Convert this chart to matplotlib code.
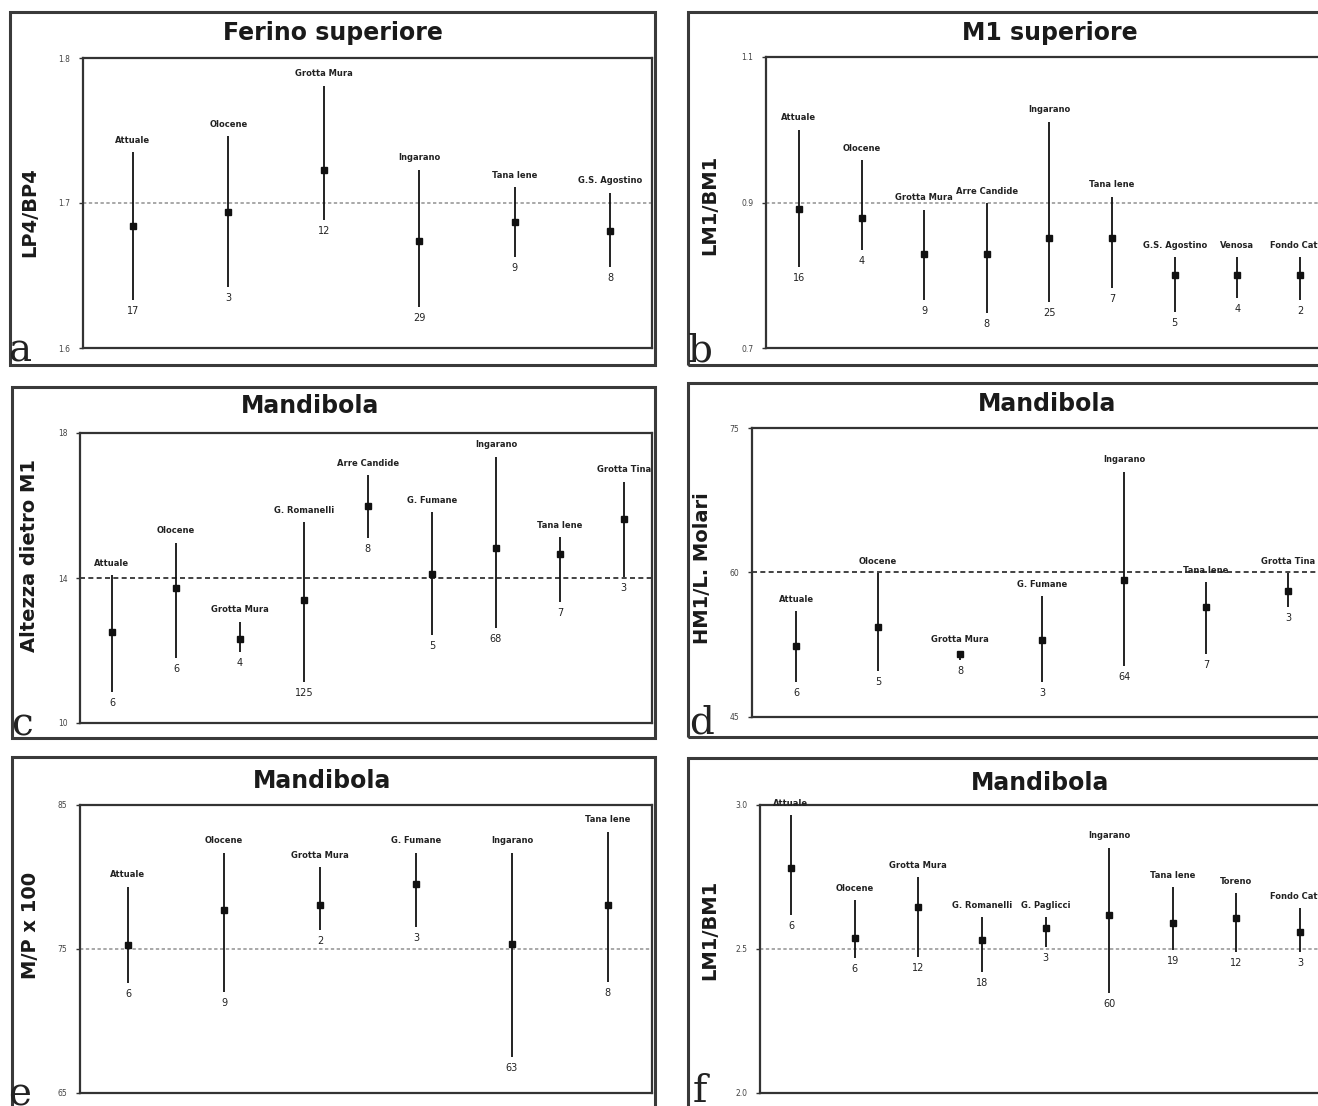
"""
Six-panel range plots (mean and min-max) of dental ratios per site,
with the reference level of the modern sample marked as a dashed line.
"""

import matplotlib
matplotlib.use("Agg")
import matplotlib.pyplot as plt
from matplotlib.patches import Rectangle

W, H = 1318, 1106          # output size in pixels
DPI = 100

# ---- panel a: Ferino superiore -------------------------------------------
A_SITES = ["Attuale", "Olocene", "Grotta Mura", "Ingarano", "Tana Iene", "G.S. Agostino"]
A_HIGH = [1.735, 1.746, 1.781, 1.723, 1.711, 1.707]
A_MEAN = [1.684, 1.694, 1.723, 1.674, 1.687, 1.681]
A_LOW = [1.633, 1.642, 1.688, 1.628, 1.663, 1.656]
A_N = ["17", "3", "12", "29", "9", "8"]
A_TICKS = [1.6, 1.7, 1.8]

# ---- panel b: M1 superiore -----------------------------------------------
B_SITES = ["Attuale", "Olocene", "Grotta Mura", "Arre Candide", "Ingarano",
           "Tana Iene", "G.S. Agostino", "Venosa", "Fondo Cattie"]
B_HIGH = [1.000, 0.958, 0.890, 0.899, 1.011, 0.908, 0.825, 0.825, 0.825]
B_MEAN = [0.891, 0.879, 0.829, 0.829, 0.851, 0.851, 0.800, 0.800, 0.800]
B_LOW = [0.811, 0.835, 0.766, 0.748, 0.763, 0.782, 0.749, 0.769, 0.766]
B_N = ["16", "4", "9", "8", "25", "7", "5", "4", "2"]
B_TICKS = [0.7, 0.9, 1.1]

# ---- panel c: Mandibola, altezza dietro M1 -------------------------------
C_SITES = ["Attuale", "Olocene", "Grotta Mura", "G. Romanelli", "Arre Candide",
           "G. Fumane", "Ingarano", "Tana Iene", "Grotta Tina"]
C_HIGH = [14.08, 14.97, 12.79, 15.54, 16.84, 15.82, 17.34, 15.13, 16.65]
C_MEAN = [12.51, 13.72, 12.32, 13.39, 15.99, 14.11, 14.83, 14.66, 15.63]
C_LOW = [10.86, 11.79, 11.96, 11.13, 15.10, 12.43, 12.62, 13.34, 14.03]
C_N = ["6", "6", "4", "125", "8", "5", "68", "7", "3"]
C_TICKS = [10, 14, 18]

# ---- panel d: Mandibola, HM1/L. Molari -----------------------------------
D_SITES = ["Attuale", "Olocene", "Grotta Mura", "G. Fumane", "Ingarano",
           "Tana Iene", "Grotta Tina"]
D_HIGH = [55.97, 59.90, 51.83, 57.52, 70.45, 58.97, 59.90]
D_MEAN = [52.35, 54.31, 51.52, 52.97, 59.17, 56.38, 58.03]
D_LOW = [48.62, 49.76, 50.90, 48.62, 50.28, 51.52, 56.38]
D_N = ["6", "5", "8", "3", "64", "7", "3"]
D_TICKS = [45, 60, 75]

# ---- panel e: Mandibola, M/P x 100 ---------------------------------------
E_SITES = ["Attuale", "Olocene", "Grotta Mura", "G. Fumane", "Ingarano", "Tana Iene"]
E_HIGH = [79.31, 81.67, 80.69, 81.67, 81.67, 83.13]
E_MEAN = [75.28, 77.71, 78.06, 79.51, 75.35, 78.06]
E_LOW = [72.64, 72.01, 76.32, 76.53, 67.50, 72.71]
E_N = ["6", "9", "2", "3", "63", "8"]
E_TICKS = [65, 75, 85]

# ---- panel f: Mandibola, LM1/BM1 -----------------------------------------
F_SITES = ["Attuale", "Olocene", "Grotta Mura", "G. Romanelli", "G. Paglicci",
           "Ingarano", "Tana Iene", "Toreno", "Fondo Cattie"]
F_HIGH = [2.965, 2.670, 2.750, 2.611, 2.611, 2.851, 2.715, 2.694, 2.642]
F_MEAN = [2.781, 2.538, 2.646, 2.531, 2.573, 2.618, 2.590, 2.608, 2.559]
F_LOW = [2.618, 2.469, 2.472, 2.420, 2.507, 2.347, 2.497, 2.490, 2.490]
F_N = ["6", "6", "12", "18", "3", "60", "19", "12", "3"]
F_TICKS = [2.0, 2.5, 3.0]


def fig_box(x0, y0, x1, y1):
    """Pixel box (top-left origin) -> figure fraction [l, b, w, h]."""
    return [x0 / W, 1 - y1 / H, (x1 - x0) / W, (y1 - y0) / H]


# layout in pixels: frame, axes, title centre, ylabel centre, letter position, xlim
PANELS = [
    dict(title="Ferino superiore", ylabel="LP4/BP4", letter="a",
         sites=A_SITES, high=A_HIGH, mean=A_MEAN, low=A_LOW, n=A_N, ticks=A_TICKS,
         frame=(10, 12, 655, 365), axes=(83, 58, 652, 348), tpos=(333, 33),
         ypos=(30, 212), lpos=(20, 362), xlim=(0.476, 6.44), dark=False),
    dict(title="M1 superiore", ylabel="LM1/BM1", letter="b",
         sites=B_SITES, high=B_HIGH, mean=B_MEAN, low=B_LOW, n=B_N, ticks=B_TICKS,
         frame=(688, 12, 1340, 365), axes=(766, 57, 1330, 348), tpos=(1050, 33),
         ypos=(710, 205), lpos=(700, 362), xlim=(0.473, 9.48), dark=False),
    dict(title="Mandibola", ylabel="Altezza dietro M1", letter="c",
         sites=C_SITES, high=C_HIGH, mean=C_MEAN, low=C_LOW, n=C_N, ticks=C_TICKS,
         frame=(12, 387, 655, 738), axes=(80, 433, 652, 723), tpos=(310, 406),
         ypos=(30, 555), lpos=(22, 735), xlim=(0.5, 9.44), dark=True),
    dict(title="Mandibola", ylabel="HM1/L. Molari", letter="d",
         sites=D_SITES, high=D_HIGH, mean=D_MEAN, low=D_LOW, n=D_N, ticks=D_TICKS,
         frame=(688, 383, 1340, 737), axes=(752, 428, 1330, 717), tpos=(1047, 404),
         ypos=(703, 568), lpos=(702, 733), xlim=(0.463, 7.51), dark=True),
    dict(title="Mandibola", ylabel="M/P x 100", letter="e",
         sites=E_SITES, high=E_HIGH, mean=E_MEAN, low=E_LOW, n=E_N, ticks=E_TICKS,
         frame=(12, 757, 655, 1115), axes=(80, 805, 652, 1093), tpos=(322, 781),
         ypos=(30, 925), lpos=(20, 1106), xlim=(0.5, 6.46), dark=False),
    dict(title="Mandibola", ylabel="LM1/BM1", letter="f",
         sites=F_SITES, high=F_HIGH, mean=F_MEAN, low=F_LOW, n=F_N, ticks=F_TICKS,
         frame=(688, 758, 1340, 1115), axes=(760, 805, 1330, 1093), tpos=(1040, 783),
         ypos=(710, 930), lpos=(700, 1102), xlim=(0.513, 9.47), dark=False),
]


def draw_panel(fig, p):
    x0, y0, x1, y1 = p["frame"]
    fig.patches.append(Rectangle((x0 / W, 1 - y1 / H), (x1 - x0) / W, (y1 - y0) / H,
                                 transform=fig.transFigure, fill=False,
                                 lw=2.2, ec="#3a3a3a"))
    fig.text(p["tpos"][0] / W, 1 - p["tpos"][1] / H, p["title"],
             ha="center", va="center", fontsize=17, fontweight="bold", color="#1a1a1a")
    fig.text(p["ypos"][0] / W, 1 - p["ypos"][1] / H, p["ylabel"], rotation=90,
             ha="center", va="center", fontsize=14, fontweight="bold", color="#1a1a1a")
    fig.text(p["lpos"][0] / W, 1 - p["lpos"][1] / H, p["letter"],
             ha="center", va="baseline", fontsize=28, family="DejaVu Serif", color="#222")

    ax = fig.add_axes(fig_box(*p["axes"]))
    xs = list(range(1, len(p["sites"]) + 1))
    ref = p["ticks"][1]
    if p["dark"]:
        ax.axhline(ref, color="#222", lw=1.2, ls=(0, (3, 2)), zorder=1)
    else:
        ax.axhline(ref, color="#999", lw=1.2, ls=(0, (2, 1.5)), zorder=1)
    ax.vlines(xs, p["low"], p["high"], color="#111", lw=1.3, zorder=2)
    ax.plot(xs, p["mean"], "s", ms=4.5, color="#111", zorder=3)

    for x, name, hi, lo, n in zip(xs, p["sites"], p["high"], p["low"], p["n"]):
        ax.annotate(name, (x, hi), xytext=(0, 12), textcoords="offset pixels",
                    ha="center", va="center", fontsize=6, fontweight="bold",
                    color="#222", annotation_clip=False)
        ax.annotate(n, (x, lo), xytext=(0, -11), textcoords="offset pixels",
                    ha="center", va="center", fontsize=7, color="#222")

    ax.set_xlim(*p["xlim"])
    ax.set_ylim(p["ticks"][0], p["ticks"][-1])
    ax.set_xticks([])
    ax.set_yticks(p["ticks"])
    ax.set_yticklabels([f"{t:g}" if isinstance(t, int) else f"{t:.1f}" for t in p["ticks"]])
    ax.tick_params(axis="y", labelsize=5.5, labelcolor="#444", length=3, width=1,
                   color="#333", pad=6)
    for side in ax.spines.values():
        side.set_color("#333")
        side.set_linewidth(1.6)
    return ax


def main():
    fig = plt.figure(figsize=(W / DPI, H / DPI), dpi=DPI)
    fig.patch.set_facecolor("white")
    for p in PANELS:
        draw_panel(fig, p)
    fig.savefig("out.png", dpi=DPI)


if __name__ == "__main__":
    main()
